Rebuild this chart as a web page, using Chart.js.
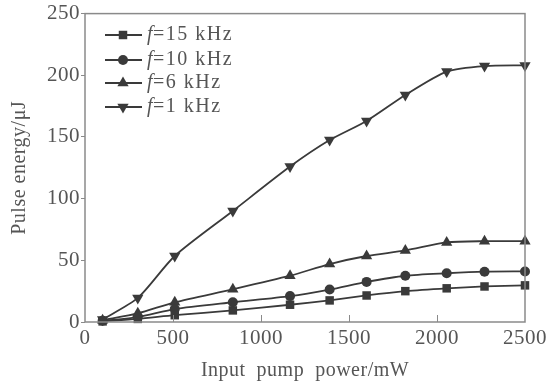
<!DOCTYPE html>
<html>
<head>
<meta charset="utf-8">
<script src="https://cdn.jsdelivr.net/npm/chart.js@4.4.0/dist/chart.umd.min.js"></script>
<style>
  html, body { margin: 0; padding: 0; background: #fff; }
  #wrap { width: 550px; height: 387px; }
</style>
</head>
<body>
<div id="wrap"><canvas id="chart" width="550" height="387"></canvas></div>
<script>
// pump power (mW), shared by all four curves
const pumpPower = [100, 300, 510, 840, 1165, 1390, 1600, 1820, 2055, 2270, 2500];
// pulse energy (uJ)
const energy15k = [0.5, 2.5, 5.5, 9.4, 14, 17.5, 21.5, 25, 27.3, 28.8, 29.7];
const energy10k = [1, 4, 10.5, 16, 21, 26.3, 32.5, 37.5, 39.5, 40.8, 41];
const energy6k = [1.5, 7, 16, 26.5, 37.5, 47, 53.5, 58, 64.5, 65.5, 65.5];
const energy1k = [2, 19.5, 53.5, 90, 126, 147.5, 163, 184, 203, 207.5, 208];
const seriesLabels = ['15 kHz', '10 kHz', '6 kHz', '1 kHz'];
const xTicks = [0, 500, 1000, 1500, 2000, 2500];
const yTicks = [0, 50, 100, 150, 200, 250];

const INK = '#3a3a3a';
const AXIS = '#8a8a8a';
const TEXT = '#555';
const SERIF = "'Liberation Serif', 'DejaVu Serif', serif";

function toPoints(ys) {
    return pumpPower.map((x, i) => ({ x: x, y: ys[i] }));
}

const markers = [
    { pointStyle: 'rect', radius: 6, rotation: 0 },
    { pointStyle: 'circle', radius: 5, rotation: 0 },
    { pointStyle: 'triangle', radius: 6.5, rotation: 0 },
    { pointStyle: 'triangle', radius: 6.5, rotation: 180 }
];

const seriesData = [energy15k, energy10k, energy6k, energy1k];

const datasets = seriesData.map((ys, i) => ({
    label: 'f=' + seriesLabels[i],
    data: toPoints(ys),
    borderColor: INK,
    backgroundColor: INK,
    borderWidth: 1.8,
    pointStyle: markers[i].pointStyle,
    pointRadius: markers[i].radius,
    pointRotation: markers[i].rotation,
    pointBorderWidth: 0,
    tension: 0.25,
    clip: false,
    fill: false
}));

// frame around the plot, inward x ticks, legend with italic f
const framePlugin = {
    id: 'frame',
    beforeDraw(chart) {
        chart.ctx.letterSpacing = '0.5px';
    },
    afterDraw(chart) {
        const { ctx, chartArea: a, scales } = chart;
        ctx.save();
        ctx.strokeStyle = AXIS;
        ctx.lineWidth = 1.5;
        ctx.strokeRect(a.left, a.top, a.right - a.left, a.bottom - a.top);
        ctx.lineWidth = 1;
        xTicks.slice(1, -1).forEach(v => {
            const px = Math.round(scales.x.getPixelForValue(v)) + 0.5;
            ctx.beginPath();
            ctx.moveTo(px, a.bottom);
            ctx.lineTo(px, a.bottom - 7);
            ctx.stroke();
        });

        // legend
        const rows = [35, 60, 83, 107];
        ctx.letterSpacing = '1.5px';
        chart.data.datasets.forEach((ds, i) => {
            const y = rows[i];
            ctx.strokeStyle = INK;
            ctx.lineWidth = 1.8;
            ctx.beginPath();
            ctx.moveTo(105, y);
            ctx.lineTo(142, y);
            ctx.stroke();
            ctx.fillStyle = INK;
            Chart.helpers.drawPoint(ctx, {
                pointStyle: markers[i].pointStyle,
                radius: markers[i].radius,
                rotation: markers[i].rotation,
                borderWidth: 0
            }, 123, y);
            ctx.fillStyle = TEXT;
            ctx.textBaseline = 'middle';
            ctx.textAlign = 'left';
            ctx.font = 'italic 20px ' + SERIF;
            ctx.fillText('f', 147, y);
            const w = ctx.measureText('f').width;
            ctx.font = '20px ' + SERIF;
            ctx.fillText('=' + seriesLabels[i], 147 + w - 1, y);
        });
        ctx.restore();
    }
};

const ctx = document.getElementById('chart').getContext('2d');
new Chart(ctx, {
    type: 'line',
    data: { datasets: datasets },
    plugins: [framePlugin],
    options: {
        responsive: false,
        animation: false,
        layout: { padding: { left: 0, right: 24, top: 13, bottom: 0 } },
        plugins: { legend: { display: false }, tooltip: { enabled: false } },
        scales: {
            x: {
                type: 'linear', min: 0, max: 2500,
                afterBuildTicks: s => { s.ticks = xTicks.map(v => ({ value: v })); },
                afterFit: s => { s.height = 65; },
                grid: { display: true, drawOnChartArea: false, drawTicks: false },
                border: { display: false },
                ticks: { color: TEXT, font: { family: SERIF, size: 21 }, padding: 4, maxRotation: 0, callback: v => String(v) },
                title: { display: true, text: 'Input  pump  power/mW', color: TEXT, font: { family: SERIF, size: 20 }, padding: { top: 8 } }
            },
            y: {
                min: 0, max: 250,
                afterBuildTicks: s => { s.ticks = yTicks.map(v => ({ value: v })); },
                afterFit: s => { s.width = 85; },
                grid: { display: true, drawOnChartArea: false, tickLength: 4, tickColor: AXIS, tickWidth: 1 },
                border: { display: false },
                ticks: { color: TEXT, font: { family: SERIF, size: 21 }, padding: 1, callback: v => String(v) },
                title: { display: true, text: 'Pulse energy/\u03bcJ', color: TEXT, font: { family: SERIF, size: 20 }, padding: { top: 8 } }
            }
        }
    }
});
</script>
</body>
</html>
